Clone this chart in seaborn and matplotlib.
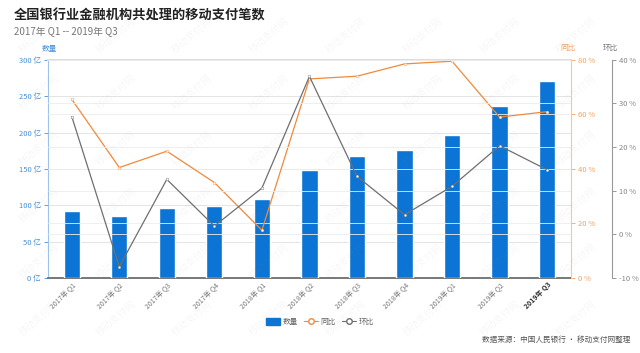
import numpy as np
import pandas as pd
import seaborn as sns
import matplotlib.pyplot as plt
from matplotlib.lines import Line2D
from matplotlib.patches import Patch

quarters = ["2017年 Q1", "2017年 Q2", "2017年 Q3", "2017年 Q4",
            "2018年 Q1", "2018年 Q2", "2018年 Q3", "2018年 Q4",
            "2019年 Q1", "2019年 Q2", "2019年 Q3"]
volume = [92, 85, 96, 98.5, 108.5, 148.5, 168, 176, 196, 236, 271]        # 亿笔
yoy = [65.5, 40.5, 46.5, 35, 17.5, 73, 74, 78.5, 79.5, 59, 61]          # 同比 %
qoq = [27, -7.4, 12.6, 1.9, 10.6, 36.2, 13.3, 4.5, 11, 20.3, 14.8]       # 环比 %

BLUE = "#0b74d4"
ORANGE = "#ef8a3a"
GRAY = "#6f6f6f"

sns.set_style("white")
plt.rcParams['font.family'] = ['Noto Sans CJK SC', 'DejaVu Sans']

df = pd.DataFrame({"季度": quarters, "数量": volume, "同比": yoy, "环比": qoq})
df["pos"] = np.arange(len(df))

fig = plt.figure(figsize=(6.4, 3.53), dpi=100)
ax = fig.add_axes([0.075, 0.2125, 0.817, 0.618])

sns.barplot(data=df, x="季度", y="数量", color=BLUE, width=0.34,
            saturation=1, ax=ax, zorder=3)
ax.set_ylim(0, 300)
ax.set_yticks(range(0, 301, 50))
ax.set_yticklabels([f"{v} 亿" for v in range(0, 301, 50)])
ax.set_xlim(-0.5, len(df) - 0.5)
ax.set_xlabel("")
ax.set_ylabel("")
ax.grid(axis="y", color="#e4e4e4", lw=0.7, zorder=0)
ax.set_axisbelow(True)
ax.tick_params(axis="y", colors="#4a8fd6", labelsize=5.5, length=3, width=0.6, pad=2)
ax.tick_params(axis="x", colors="#777777", labelsize=5, length=0, pad=2)
for lab in ax.get_xticklabels():
    lab.set_rotation(45)
    lab.set_ha("right")
    lab.set_rotation_mode("anchor")
ax.get_xticklabels()[-1].set_color("#333333")
ax.get_xticklabels()[-1].set_fontweight("bold")
ax.spines["left"].set_color("#9cc3ea")
ax.spines["left"].set_linewidth(0.8)
ax.spines["bottom"].set_color("#777777")
ax.spines["bottom"].set_linewidth(1.4)
ax.spines["top"].set_color("#dddddd")
ax.spines["top"].set_linewidth(1.4)
ax.spines["right"].set_visible(False)

# 同比 axis
ax2 = ax.twinx()
sns.lineplot(data=df, x="pos", y="同比", color=ORANGE, lw=0.9, marker="o",
             markersize=2, markerfacecolor="white", markeredgecolor=ORANGE,
             markeredgewidth=0.3, ax=ax2, zorder=4)
ax2.set_ylim(0, 80)
ax2.set_yticks(range(0, 81, 20))
ax2.set_yticklabels([f"{v} %" for v in range(0, 81, 20)])
ax2.grid(axis="y", color="#ececec", lw=0.6)
ax2.tick_params(axis="y", colors="#f0a365", labelsize=5.5, length=3, width=0.6, pad=2)
ax2.set_ylabel("")
for s in ["left", "top", "bottom"]:
    ax2.spines[s].set_visible(False)
ax2.spines["right"].set_color("#f3c9a3")
ax2.spines["right"].set_linewidth(0.8)

# 环比 axis
ax3 = ax.twinx()
ax3.spines["right"].set_position(("axes", 1.078))
sns.lineplot(data=df, x="pos", y="环比", color=GRAY, lw=0.9, marker="o",
             markersize=2, markerfacecolor="white", markeredgecolor=GRAY,
             markeredgewidth=0.3, ax=ax3, zorder=4)
ax3.set_ylim(-10, 40)
ax3.set_yticks(range(-10, 41, 10))
ax3.set_yticklabels([f"{v} %" for v in range(-10, 41, 10)])
ax3.grid(axis="y", color="#ececec", lw=0.6)
ax3.tick_params(axis="y", colors="#888888", labelsize=5.5, length=3, width=0.6, pad=2)
ax3.set_ylabel("")
for s in ["left", "top", "bottom"]:
    ax3.spines[s].set_visible(False)
ax3.spines["right"].set_color("#999999")
ax3.spines["right"].set_linewidth(0.8)
ax3.set_xlim(-0.5, len(df) - 0.5)
ax2.set_xlim(-0.5, len(df) - 0.5)
ax2.set_xlabel("")
ax3.set_xlabel("")

# titles
fig.text(0.022, 0.955, "全国银行业金融机构共处理的移动支付笔数", fontsize=9.5,
         fontweight="bold", color="#222222", va="center")
fig.text(0.022, 0.91, "2017年 Q1 -- 2019年 Q3", fontsize=7, color="#777777", va="center")
fig.text(0.077, 0.862, "数量", fontsize=5.5, color="#4a8fd6", ha="center", va="center")
fig.text(0.887, 0.865, "同比", fontsize=5.5, color="#f0a365", ha="center", va="center")
fig.text(0.954, 0.865, "环比", fontsize=5.5, color="#777777", ha="center", va="center")

handles = [Patch(facecolor=BLUE, edgecolor=BLUE, label="数量"),
           Line2D([0], [0], color=ORANGE, lw=0.8, marker="o", markersize=4,
                  markerfacecolor="white", label="同比"),
           Line2D([0], [0], color=GRAY, lw=0.8, marker="o", markersize=4,
                  markerfacecolor="white", label="环比")]
fig.legend(handles=handles, loc="center", bbox_to_anchor=(0.5, 0.087), ncol=3,
           frameon=False, fontsize=5.5, handlelength=1.8, handleheight=0.9,
           columnspacing=0.8, handletextpad=0.4, labelcolor="#666666")

fig.text(0.985, 0.037, "数据来源：中国人民银行 • 移动支付网整理", fontsize=5.5,
         color="#555555", ha="right", va="center")

# faint watermark, kept inside the canvas
for wy in np.arange(0.1, 0.92, 0.16):
    for wx in np.arange(0.06, 0.95, 0.12):
        fig.text(wx, wy, "移动支付网", fontsize=7, color="#999999", alpha=0.08,
                 rotation=40, ha="center", va="center")

fig.savefig("out.png", dpi=100)
